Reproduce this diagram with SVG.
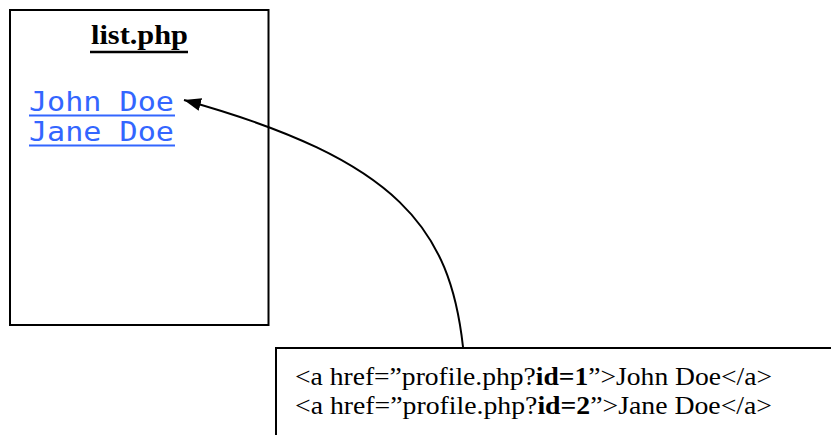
<svg xmlns="http://www.w3.org/2000/svg" width="831" height="435" viewBox="0 0 831 435">
<style>
.box{fill:#fff;stroke:#000;stroke-width:2}
.title{font-family:"Liberation Serif","Times New Roman",serif;font-weight:bold;font-size:27px;fill:#000}
.link{font-family:"DejaVu Sans Mono",monospace;font-size:26px;fill:#3366ff}
.uline{stroke:#3366ff;stroke-width:2}
.code{font-family:"Liberation Serif","Times New Roman",serif;font-size:26px;fill:#000}
.conn{fill:none;stroke:#000;stroke-width:2}
</style>
<defs>
<marker id="arrow" markerUnits="userSpaceOnUse" markerWidth="20" markerHeight="16" refX="17" refY="6.5" orient="auto">
<path d="M0,0 L17,6.5 L0,13 Z" fill="#000"/>
</marker>
</defs>
<rect width="831" height="435" fill="#fff"/>
<g id="list-page">
<rect class="box" x="10" y="10" width="258.5" height="315"/>
<text class="title" x="91" y="44" textLength="97" lengthAdjust="spacingAndGlyphs">list.php</text>
<line x1="90" y1="52" x2="188" y2="52" stroke="#000" stroke-width="2.5"/>
<text class="link" x="29" y="111" textLength="145" lengthAdjust="spacingAndGlyphs">John Doe</text>
<line class="uline" x1="29" y1="115.5" x2="175" y2="115.5"/>
<text class="link" x="29" y="141" textLength="145" lengthAdjust="spacingAndGlyphs">Jane Doe</text>
<line class="uline" x1="29" y1="145.5" x2="175" y2="145.5"/>
</g>
<g id="code-box">
<rect class="box" x="276" y="348" width="600" height="120"/>
<text class="code" x="295" y="385" textLength="477" lengthAdjust="spacingAndGlyphs">&lt;a href=”profile.php?<tspan font-weight="bold">id=1</tspan>”&gt;John Doe&lt;/a&gt;</text>
<text class="code" x="295" y="414" textLength="477" lengthAdjust="spacingAndGlyphs">&lt;a href=”profile.php?<tspan font-weight="bold">id=2</tspan>”&gt;Jane Doe&lt;/a&gt;</text>
</g>
<g id="connectors">
<path class="conn" d="M463,347 C450,230 400,160 184,100" marker-end="url(#arrow)"/>
</g>
</svg>
